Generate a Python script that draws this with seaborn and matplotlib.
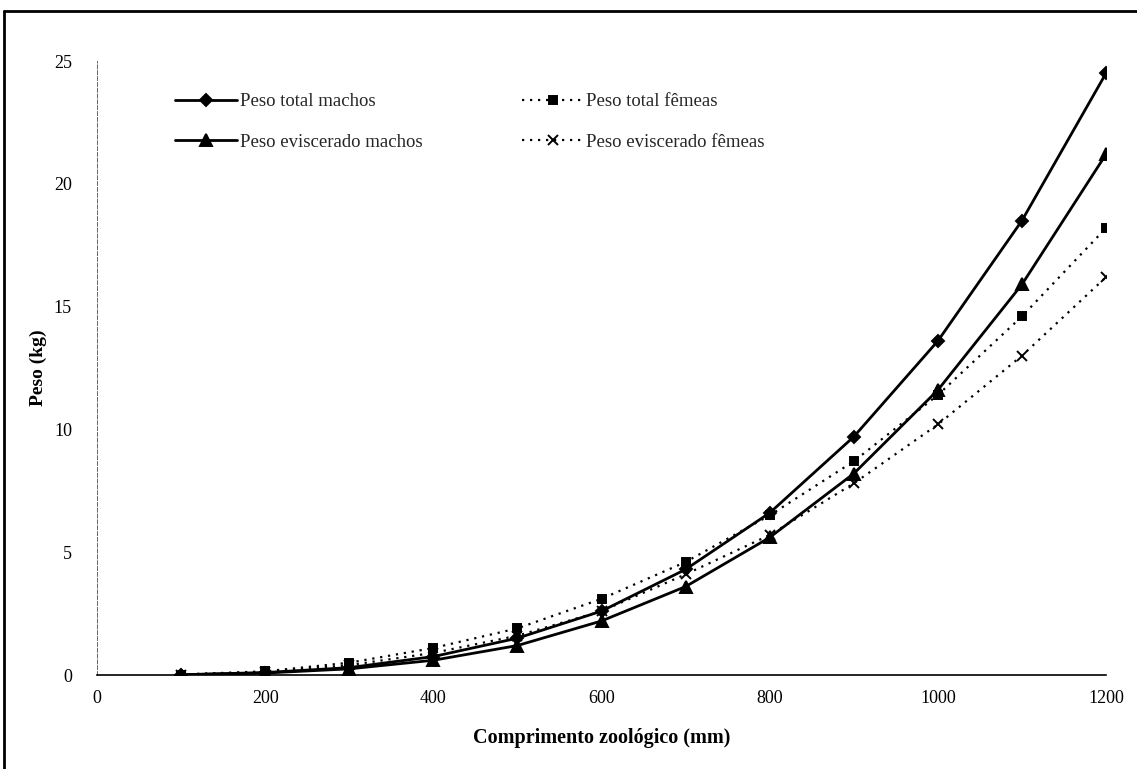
import matplotlib
matplotlib.use("Agg")
import matplotlib.pyplot as plt
import seaborn as sns
import pandas as pd
from matplotlib.lines import Line2D

# ---- data ----
comprimento = [100, 200, 300, 400, 500, 600, 700, 800, 900, 1000, 1100, 1200]
peso_total_machos = [0.01, 0.10, 0.30, 0.75, 1.50, 2.60, 4.30, 6.60, 9.70, 13.60, 18.50, 24.50]
peso_total_femeas = [0.02, 0.15, 0.50, 1.10, 1.90, 3.10, 4.60, 6.50, 8.70, 11.40, 14.60, 18.20]
peso_evisc_machos = [0.01, 0.08, 0.25, 0.60, 1.20, 2.20, 3.60, 5.60, 8.20, 11.60, 15.90, 21.20]
peso_evisc_femeas = [0.02, 0.12, 0.40, 0.90, 1.60, 2.60, 4.10, 5.70, 7.80, 10.20, 13.00, 16.20]

series_labels = ["Peso total machos", "Peso eviscerado machos",
                 "Peso total fêmeas", "Peso eviscerado fêmeas"]
x_ticks = [0, 200, 400, 600, 800, 1000, 1200]
y_ticks = [0, 5, 10, 15, 20, 25]

sns.set_theme(style="white")
plt.rcParams["font.family"] = ["Liberation Serif", "DejaVu Serif"]

fig = plt.figure(figsize=(11.37, 7.69), dpi=100)
ax = fig.add_axes([97 / 1137, 1 - 675 / 769, (1106 - 97) / 1137, (675 - 61) / 769])

styles = [
    (peso_total_machos, "D", "-", 2.0, 6.5, series_labels[0]),
    (peso_evisc_machos, "^", "-", 2.0, 8, series_labels[1]),
    (peso_total_femeas, "s", (0, (1, 2.6)), 1.6, 6, series_labels[2]),
    (peso_evisc_femeas, "x", (0, (1, 2.6)), 1.6, 6.5, series_labels[3]),
]

for vals, mk, ls, lw, ms, lab in styles:
    df = pd.DataFrame({"x": comprimento, "y": vals})
    sns.lineplot(data=df, x="x", y="y", ax=ax, color="black", marker=mk,
                 linestyle=ls, linewidth=lw, markersize=ms,
                 markeredgecolor="black", markerfacecolor="black",
                 markeredgewidth=1.4, label=lab, legend=False)

ax.set_xlim(0, 1200)
ax.set_ylim(0, 25)
ax.set_xticks(x_ticks)
ax.set_yticks(y_ticks)
ax.set_xticklabels([str(t) for t in x_ticks])
ax.set_yticklabels([str(t) for t in y_ticks])
ax.tick_params(axis="both", labelsize=13, colors="black", direction="out")
ax.tick_params(axis="x", length=5, width=0.8, pad=6)
ax.tick_params(axis="y", length=4, width=0.8, pad=14)

for side in ["top", "right"]:
    ax.spines[side].set_visible(False)
ax.spines["bottom"].set_color("black")
ax.spines["bottom"].set_linewidth(1.2)
ax.spines["left"].set_color("#666666")
ax.spines["left"].set_linewidth(0.7)
ax.spines["left"].set_linestyle((0, (4, 2)))

ax.set_xlabel("Comprimento zoológico (mm)", fontsize=14.5, fontweight="bold",
              color="black", labelpad=15)
ax.set_ylabel("Peso (kg)", fontsize=14, fontweight="bold", color="black",
              labelpad=5)

handles, labels = ax.get_legend_handles_labels()
order = [labels.index(l) for l in series_labels]
leg = ax.legend([handles[i] for i in order], [labels[i] for i in order],
                ncol=2, loc="upper left",
                bbox_to_anchor=(175 / 1137, 1 - 93 / 769),
                bbox_transform=fig.transFigure, frameon=False,
                fontsize=13.5, handlelength=3.3, handletextpad=0.15,
                labelspacing=1.25, columnspacing=5.3, borderpad=0,
                borderaxespad=0)

# scan frame (top and left edges)
fig.add_artist(Line2D([4 / 1137, 1.0], [1 - 11 / 769, 1 - 11 / 769],
                      transform=fig.transFigure, color="black", linewidth=2))
fig.add_artist(Line2D([4 / 1137, 4 / 1137], [0, 1 - 11 / 769],
                      transform=fig.transFigure, color="black", linewidth=2))

fig.savefig("out.png", dpi=100, facecolor="white")
